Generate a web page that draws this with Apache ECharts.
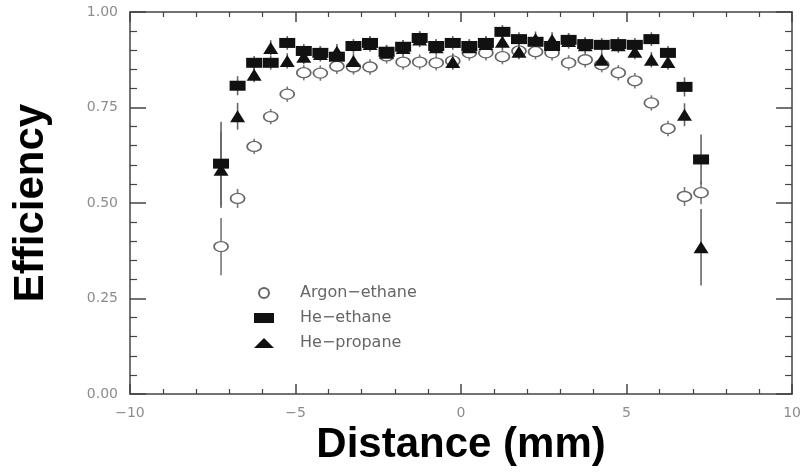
<!DOCTYPE html>
<html>
<head>
<meta charset="utf-8">
<script src="https://cdn.jsdelivr.net/npm/echarts@6/dist/echarts.min.js"></script>
<style>html,body{margin:0;padding:0;background:#fff}#c{width:804px;height:473px}</style>
</head>
<body>
<div id="c"></div>
<script>
// Distance positions (mm)
const distances = [-7.25,-6.75,-6.25,-5.75,-5.25,-4.75,-4.25,-3.75,-3.25,-2.75,-2.25,-1.75,-1.25,-0.75,-0.25,
                    0.25,0.75,1.25,1.75,2.25,2.75,3.25,3.75,4.25,4.75,5.25,5.75,6.25,6.75,7.25];
// Efficiency values
const argonEthane = [0.386,0.512,0.648,0.726,0.785,0.841,0.840,0.858,0.856,0.856,0.885,0.869,0.869,0.867,0.872,
                     0.893,0.893,0.883,0.898,0.896,0.893,0.867,0.875,0.862,0.841,0.820,0.762,0.695,0.517,0.527];
const heEthane    = [0.603,0.807,0.867,0.867,0.919,0.898,0.893,0.883,0.911,0.919,0.896,0.909,0.932,0.911,0.919,
                     0.911,0.919,0.948,0.929,0.922,0.911,0.927,0.916,0.914,0.916,0.914,0.929,0.893,0.804,0.614];
const hePropane   = [0.587,0.727,0.836,0.906,0.872,0.883,0.890,0.896,0.872,0.916,0.893,0.906,0.928,0.908,0.869,
                     0.908,0.916,0.922,0.896,0.929,0.927,0.924,0.913,0.875,0.913,0.896,0.875,0.869,0.731,0.384];
// Error bar half-widths
const argonErr    = [0.075,0.025,0.02,0.02,0.02,0.02,0.02,0.02,0.02,0.02,0.02,0.02,0.02,0.02,0.02,
                     0.02,0.02,0.02,0.02,0.02,0.02,0.02,0.02,0.02,0.02,0.02,0.02,0.02,0.025,0.03];
const heEthErr    = [0.11,0.025,0.018,0.018,0.018,0.018,0.018,0.018,0.018,0.018,0.018,0.018,0.018,0.018,0.018,
                     0.018,0.018,0.018,0.018,0.018,0.018,0.018,0.018,0.018,0.018,0.018,0.018,0.018,0.025,0.065];
const heProErr    = [0.10,0.035,0.02,0.02,0.02,0.02,0.02,0.02,0.02,0.02,0.02,0.02,0.02,0.02,0.02,
                     0.02,0.02,0.02,0.02,0.02,0.02,0.02,0.02,0.02,0.02,0.02,0.02,0.02,0.03,0.10];
const seriesNames = ['Argon\u2212ethane','He\u2212ethane','He\u2212propane'];
const xTicks = {min:-10, max:10, step:5};
const yTicks = {min:0, max:1, step:0.25};

const pts = (v) => distances.map((x,i)=>[x, v[i]]);
const errPts = (v,e) => distances.map((x,i)=>[x, v[i], e[i]]);

function errSeries(v, e, color){
  return {
    type:'custom', silent:true, z:1,
    data: errPts(v,e),
    encode:{x:0,y:[1]},
    renderItem: function(params, api){
      const x = api.value(0), y = api.value(1), d = api.value(2);
      const p1 = api.coord([x, y-d]), p2 = api.coord([x, y+d]);
      return {type:'line', shape:{x1:p1[0],y1:p1[1],x2:p2[0],y2:p2[1]},
              style:{stroke:color, lineWidth:1.6}};
    }
  };
}

const axisColor = '#444';
const labelStyle = {color:'#8c8c8c', fontFamily:'DejaVu Sans', fontSize:14};
function frameAxis(extra, isX){
  return Object.assign({
    type:'value',
    axisLine:{onZero:false, lineStyle:{color:axisColor, width:1.5}},
    axisTick:{inside:true, length:isX?10:16, lineStyle:{color:axisColor, width:1.5}},
    minorTick:{show:true, splitNumber:5, length:isX?5:7, lineStyle:{color:axisColor, width:1.2}},
    splitLine:{show:false}
  }, extra);
}
const chart = echarts.init(document.getElementById('c'), null, {renderer:'canvas'});
chart.setOption({
  animation:false,
  backgroundColor:'#fff',
  grid:{left:130, right:10, top:12, bottom:79},
  legend:{
    orient:'vertical', left:249, top:280,
    itemWidth:20, itemHeight:10, itemGap:9, symbolKeepAspect:false,
    data:seriesNames,
    textStyle:{color:'#666', fontFamily:'DejaVu Sans', fontSize:16, lineHeight:16, padding:[0,0,0,21]}
  },
  xAxis:[
    frameAxis({position:'bottom', min:xTicks.min, max:xTicks.max, interval:xTicks.step,
      axisLabel:Object.assign({margin:12, formatter:(v)=>String(v).replace('-', '\u2212')}, labelStyle),
      name:'Distance (mm)', nameLocation:'middle', nameGap:28,
      nameTextStyle:{fontFamily:'Liberation Sans', fontWeight:'bold', fontSize:42, color:'#000'}}, true),
    frameAxis({position:'top', min:xTicks.min, max:xTicks.max, interval:xTicks.step,
      axisLabel:{show:false}}, true)
  ],
  yAxis:[
    frameAxis({position:'left', min:yTicks.min, max:yTicks.max, interval:yTicks.step,
      axisLabel:Object.assign({margin:12, formatter:(v)=>v.toFixed(2)}, labelStyle),
      name:'Efficiency', nameLocation:'middle', nameGap:78,
      nameTextStyle:{fontFamily:'Liberation Sans', fontWeight:'bold', fontSize:42, color:'#000'}}, false),
    frameAxis({position:'right', min:yTicks.min, max:yTicks.max, interval:yTicks.step,
      axisLabel:{show:false}}, false)
  ],
  series:[
    errSeries(argonEthane, argonErr, '#777'),
    errSeries(hePropane, heProErr, '#666'),
    errSeries(heEthane, heEthErr, '#666'),
    {name:seriesNames[0], type:'scatter', z:3, symbol:'circle', symbolSize:[14,10],
     itemStyle:{color:'#fff', borderColor:'#666', borderWidth:1.5, opacity:1},
     data:pts(argonEthane)},
    {name:seriesNames[2], type:'scatter', z:4, symbol:'triangle', symbolSize:[15,12],
     itemStyle:{color:'#111', opacity:1},
     data:pts(hePropane)},
    {name:seriesNames[1], type:'scatter', z:5, symbol:'rect', symbolSize:[16,10],
     itemStyle:{color:'#111', opacity:1},
     data:pts(heEthane)}
  ]
});
</script>
</body>
</html>
